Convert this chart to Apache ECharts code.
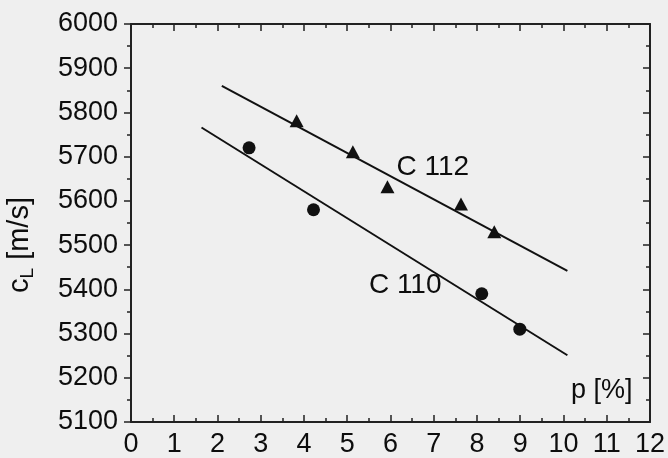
<!DOCTYPE html>
<html><head><meta charset="utf-8">
<script src="https://cdn.jsdelivr.net/npm/echarts@6/dist/echarts.min.js"></script>
<style>html,body{margin:0;padding:0;background:#efefef}#c{width:668px;height:458px}</style>
</head><body><div id="c"></div>
<script>
// Data
const c110Points = [[2.73, 5720], [4.22, 5580], [8.11, 5390], [8.99, 5310]];
const c112Points = [[3.83, 5781], [5.13, 5711], [5.93, 5632], [7.63, 5593], [8.40, 5530]];
const c110Fit = [[1.63, 5766], [10.09, 5251]];
const c112Fit = [[2.10, 5860], [10.09, 5442]];
const curveLabels = [{name: 'C 112', value: [6.98, 5676]}, {name: 'C 110', value: [6.34, 5409]}];
const xTicks = [0,1,2,3,4,5,6,7,8,9,10,11,12];
const yTicks = [5100,5200,5300,5400,5500,5600,5700,5800,5900,6000];

const FONT = 'Liberation Sans, Arial, sans-serif';
const AX = '#222';
const TXT = '#0d0d0d';
const chart = echarts.init(document.getElementById('c'));
const minor = {show:true, splitNumber:2, length:4, lineStyle:{color:AX, width:1.5}};
const baseX = {type:'value', min:xTicks[0], max:xTicks[xTicks.length-1], interval:1, splitLine:{show:false},
  axisLine:{onZero:false, lineStyle:{color:AX, width:2}}, minorTick:minor};
const baseY = {type:'value', min:yTicks[0], max:yTicks[yTicks.length-1], interval:100, splitLine:{show:false},
  axisLine:{onZero:false, lineStyle:{color:AX, width:2}}, minorTick:minor};
chart.setOption({
  backgroundColor:'#efefef',
  animation:false,
  grid:{left:131, top:24, right:18, bottom:36},
  xAxis:[
    Object.assign({}, baseX, {position:'bottom', axisTick:{inside:true, length:7, lineStyle:{color:AX, width:1.5}},
      minorTick:Object.assign({}, minor), axisLabel:{margin:9, fontSize:27, color:TXT, fontFamily:FONT}}),
    Object.assign({}, baseX, {position:'top', axisTick:{inside:true, length:7, lineStyle:{color:AX, width:1.5}},
      minorTick:Object.assign({}, minor), axisLabel:{show:false}})
  ],
  yAxis:[
    Object.assign({}, baseY, {position:'left', axisTick:{inside:false, length:7, lineStyle:{color:AX, width:1.5}},
      minorTick:Object.assign({}, minor),
      axisLabel:{margin:13, fontSize:27, color:TXT, fontFamily:FONT, formatter:v=>String(v)}}),
    Object.assign({}, baseY, {position:'right', axisTick:{inside:true, length:7, lineStyle:{color:AX, width:1.5}},
      minorTick:Object.assign({}, minor), axisLabel:{show:false}})
  ],
  graphic:[
    {type:'text', left:571, top:377, style:{text:'p [%]', font:'27px ' + FONT, fill:TXT}},
    {type:'text', x:20, y:245, rotation:Math.PI/2, style:{
      text:'{c|c}{s|L}{c| [m/s]}', align:'center', verticalAlign:'middle',
      rich:{c:{fontSize:29, fontFamily:FONT, fill:TXT},
            s:{fontSize:19, fontFamily:FONT, fill:TXT, padding:[16,0,0,0]}}}}
  ],
  series:[
    {type:'line', data:c110Fit, symbol:'none', lineStyle:{color:'#111', width:2}},
    {type:'line', data:c112Fit, symbol:'none', lineStyle:{color:'#111', width:2}},
    {type:'scatter', data:c110Points, symbol:'circle', symbolSize:13, itemStyle:{color:'#111', opacity:1}},
    {type:'scatter', data:c112Points, symbol:'triangle', symbolSize:[14,13], itemStyle:{color:'#111', opacity:1}},
    {type:'scatter', data:curveLabels, symbolSize:0, itemStyle:{opacity:1}, label:{show:true, position:'inside',
      formatter:p=>p.name, fontSize:28, fontFamily:FONT, color:TXT}}
  ]
});
</script></body></html>
